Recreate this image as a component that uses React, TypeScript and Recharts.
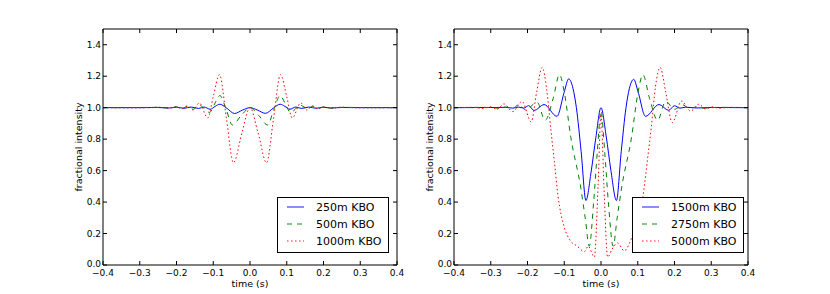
import { Legend, Line, LineChart, XAxis, YAxis } from "recharts";

const FONT = "'DejaVu Sans', sans-serif";

const X_TICKS = [-0.4, -0.3, -0.2, -0.1, 0, 0.1, 0.2, 0.3, 0.4];
const Y_TICKS = [0, 0.2, 0.4, 0.6, 0.8, 1.0, 1.2, 1.4];

// left panel
const T_250 = [-0.4, -0.3, -0.25, -0.22, -0.2, -0.18, -0.16, -0.14, -0.125, -0.108, -0.095, -0.082, -0.065, -0.042, -0.02, 0, 0.02, 0.042, 0.065, 0.082, 0.095, 0.108, 0.125, 0.14, 0.16, 0.18, 0.2, 0.22, 0.25, 0.3, 0.4];
const I_250 = [1, 1, 1.001, 0.998, 1.003, 0.996, 1.004, 0.995, 1.004, 0.99, 1.008, 1.022, 1.0, 0.963, 0.985, 1.0, 0.985, 0.964, 1.0, 1.022, 1.008, 0.99, 1.004, 0.995, 1.004, 0.996, 1.003, 0.998, 1.001, 1, 1];

const T_500 = [-0.4, -0.3, -0.25, -0.22, -0.2, -0.185, -0.17, -0.155, -0.138, -0.11, -0.095, -0.082, -0.065, -0.048, -0.024, 0, 0.024, 0.048, 0.065, 0.082, 0.095, 0.11, 0.138, 0.155, 0.17, 0.185, 0.2, 0.22, 0.25, 0.3, 0.4];
const I_500 = [1, 1.001, 1.002, 0.997, 1.005, 0.995, 1.008, 0.99, 1.015, 0.97, 1.03, 1.077, 0.99, 0.89, 0.95, 1.0, 0.95, 0.89, 0.99, 1.077, 1.03, 0.97, 1.015, 0.99, 1.008, 0.995, 1.005, 0.997, 1.002, 1.001, 1];

const T_1000 = [-0.4, -0.3, -0.25, -0.22, -0.2, -0.185, -0.17, -0.155, -0.138, -0.115, -0.1, -0.083, -0.064, -0.045, -0.022, 0, 0.022, 0.045, 0.064, 0.083, 0.1, 0.115, 0.138, 0.155, 0.17, 0.185, 0.2, 0.22, 0.25, 0.3, 0.4];
const I_1000 = [1, 0.999, 1.003, 0.996, 1.006, 0.993, 1.012, 0.985, 1.03, 0.935, 1.07, 1.21, 0.93, 0.65, 0.84, 1.0, 0.84, 0.65, 0.93, 1.21, 1.07, 0.935, 1.03, 0.985, 1.012, 0.993, 1.006, 0.996, 1.003, 0.999, 1];

// right panel
const T_1500 = [-0.4, -0.3, -0.26, -0.24, -0.225, -0.21, -0.197, -0.182, -0.155, -0.12, -0.1, -0.088, -0.076, -0.067, -0.054, -0.041, -0.027, -0.014, 0, 0.014, 0.027, 0.042, 0.055, 0.068, 0.077, 0.089, 0.101, 0.121, 0.158, 0.184, 0.2, 0.215, 0.23, 0.26, 0.3, 0.4];
const I_1500 = [1, 1.001, 1.002, 0.997, 1.004, 0.997, 1.013, 0.982, 1.02, 0.945, 1.1, 1.183, 1.12, 1.0, 0.72, 0.41, 0.59, 0.81, 1.0, 0.82, 0.6, 0.41, 0.72, 1.0, 1.12, 1.18, 1.1, 0.945, 1.02, 0.983, 1.012, 0.997, 1.003, 0.998, 1.001, 1];

const T_2750 = [-0.4, -0.32, -0.28, -0.26, -0.24, -0.224, -0.205, -0.174, -0.152, -0.13, -0.113, -0.1, -0.082, -0.055, -0.043, -0.032, -0.02, -0.01, 0, 0.01, 0.02, 0.033, 0.044, 0.056, 0.083, 0.101, 0.114, 0.132, 0.154, 0.176, 0.2, 0.222, 0.24, 0.26, 0.28, 0.32, 0.4];
const I_2750 = [1, 1.002, 0.997, 1.004, 0.995, 1.02, 0.986, 1.035, 0.92, 1.06, 1.21, 1.1, 0.81, 0.49, 0.3, 0.12, 0.4, 0.72, 0.98, 0.72, 0.4, 0.12, 0.3, 0.49, 0.81, 1.1, 1.21, 1.06, 0.92, 1.04, 0.99, 1.018, 0.996, 1.004, 0.997, 1.002, 1];

const T_5000 = [-0.4, -0.35, -0.32, -0.3, -0.283, -0.264, -0.24, -0.215, -0.19, -0.175, -0.16, -0.148, -0.136, -0.127, -0.117, -0.1, -0.085, -0.065, -0.045, -0.035, -0.018, -0.008, 0, 0.008, 0.018, 0.03, 0.045, 0.063, 0.085, 0.1, 0.115, 0.127, 0.137, 0.148, 0.161, 0.176, 0.194, 0.219, 0.244, 0.266, 0.285, 0.302, 0.32, 0.35, 0.4];
const I_5000 = [1, 1.002, 0.996, 1.006, 0.99, 1.024, 0.975, 1.04, 0.91, 1.1, 1.256, 1.12, 0.85, 0.66, 0.44, 0.24, 0.16, 0.12, 0.085, 0.12, 0.05, 0.5, 0.96, 0.5, 0.05, 0.1, 0.14, 0.09, 0.18, 0.27, 0.45, 0.68, 0.88, 1.13, 1.256, 1.1, 0.905, 1.042, 0.978, 1.022, 0.992, 1.005, 0.997, 1.002, 1];

const toPoints = (t: number[], v: number[]) => t.map((x, i) => ({ t: x, v: v[i] }));

type Series = { name: string; color: string; dash?: string; data: { t: number; v: number }[] };

const LEFT_SERIES: Series[] = [
  { name: "250m KBO", color: "#0000ff", data: toPoints(T_250, I_250) },
  { name: "500m KBO", color: "#008000", dash: "5 5", data: toPoints(T_500, I_500) },
  { name: "1000m KBO", color: "#ff0000", dash: "1.5 2.5", data: toPoints(T_1000, I_1000) },
];

const RIGHT_SERIES: Series[] = [
  { name: "1500m KBO", color: "#0000ff", data: toPoints(T_1500, I_1500) },
  { name: "2750m KBO", color: "#008000", dash: "5 5", data: toPoints(T_2750, I_2750) },
  { name: "5000m KBO", color: "#ff0000", dash: "1.5 2.5", data: toPoints(T_5000, I_5000) },
];

const fmt = (v: number) => v.toFixed(1).replace("-", "\u2212");

const BottomTick = ({ x, y, payload }: any) => (
  <g>
    <line x1={x} y1={y} x2={x} y2={y - 4} stroke="#000" />
    <text x={x} y={y + 11} textAnchor="middle" fontSize={9} fontFamily={FONT} fill="#000">
      {fmt(payload.value)}
    </text>
  </g>
);
const TopTick = ({ x, y }: any) => <line x1={x} y1={y} x2={x} y2={y + 4} stroke="#000" />;
const LeftTick = ({ x, y, payload }: any) => (
  <g>
    <line x1={x} y1={y} x2={x + 4} y2={y} stroke="#000" />
    <text x={x - 2} y={y + (payload.value === 0 ? 2 : 3)} textAnchor="end" fontSize={9} fontFamily={FONT} fill="#000">
      {fmt(payload.value)}
    </text>
  </g>
);
const RightTick = ({ x, y }: any) => <line x1={x} y1={y} x2={x - 4} y2={y} stroke="#000" />;

const XLabel = ({ viewBox }: any) => (
  <text x={viewBox.x + viewBox.width / 2} y={viewBox.y + 21.5} textAnchor="middle" fontSize={9.5} fontFamily={FONT} fill="#000">
    time (s)
  </text>
);
const YLabel = ({ viewBox }: any) => {
  const cx = viewBox.x + viewBox.width - 25;
  const cy = viewBox.y + viewBox.height / 2;
  return (
    <text x={cx} y={cy} transform={`rotate(-90 ${cx} ${cy})`} textAnchor="middle" dominantBaseline="central" fontSize={9.5} fontFamily={FONT} fill="#000">
      fractional intensity
    </text>
  );
};

const LegendBox = ({ series }: { series: Series[] }) => (
  <svg width={112} height={56} style={{ display: "block" }}>
    <rect x={0.5} y={0.5} width={111} height={55} fill="#fff" stroke="#000" />
    {series.map((s, i) => (
      <g key={s.name}>
        <line x1={10} x2={27} y1={10 + 17 * i} y2={10 + 17 * i} stroke={s.color} strokeOpacity={0.45} strokeWidth={2} strokeDasharray={s.dash} />
        <text x={39} y={14 + 17 * i} fontSize={11} fontFamily={FONT} fill="#000">
          {s.name}
        </text>
      </g>
    ))}
  </svg>
);

type PanelProps = { series: Series[]; left: number; marginLeft: number; marginRight: number; legendLeft: number };

const Panel = ({ series, left, marginLeft, marginRight, legendLeft }: PanelProps) => (
  <div style={{ position: "absolute", left, top: 0 }}>
    <LineChart width={415} height={294} margin={{ top: 25, right: marginRight, bottom: 4, left: marginLeft }}>
      <XAxis
        dataKey="t"
        type="number"
        domain={[-0.4, 0.4]}
        ticks={X_TICKS}
        interval={0}
        allowDataOverflow
        height={25}
        stroke="#000"
        tickSize={0}
        tickMargin={0}
        tickLine={false}
        tick={(p: any) => <BottomTick {...p} />}
        label={{ content: (p: any) => <XLabel {...p} /> }}
      />
      <XAxis
        xAxisId="top"
        orientation="top"
        dataKey="t"
        type="number"
        domain={[-0.4, 0.4]}
        ticks={X_TICKS}
        interval={0}
        allowDataOverflow
        height={4}
        stroke="#000"
        tickSize={0}
        tickMargin={0}
        tickLine={false}
        tick={(p: any) => <TopTick {...p} />}
      />
      <YAxis
        type="number"
        domain={[0, 1.5]}
        ticks={Y_TICKS}
        interval={0}
        allowDataOverflow
        width={30}
        stroke="#000"
        tickSize={0}
        tickMargin={0}
        tickLine={false}
        tick={(p: any) => <LeftTick {...p} />}
        label={{ content: (p: any) => <YLabel {...p} /> }}
      />
      <YAxis
        yAxisId="right"
        orientation="right"
        type="number"
        domain={[0, 1.5]}
        ticks={Y_TICKS}
        interval={0}
        allowDataOverflow
        width={4}
        stroke="#000"
        tickSize={0}
        tickMargin={0}
        tickLine={false}
        tick={(p: any) => <RightTick {...p} />}
      />
      {series.map((s) => (
        <Line
          key={s.name}
          data={s.data}
          dataKey="v"
          name={s.name}
          type="monotone"
          stroke={s.color}
          strokeWidth={1}
          strokeDasharray={s.dash}
          dot={false}
          activeDot={false}
          isAnimationActive={false}
        />
      ))}
      <Legend
        layout="vertical"
        align="center"
        verticalAlign="middle"
        wrapperStyle={{ left: legendLeft, top: 197, width: 112, height: 56 }}
        content={() => <LegendBox series={series} />}
      />
    </LineChart>
  </div>
);

export default function App() {
  return (
    <div style={{ position: "absolute", left: 0, top: 0, width: 830, height: 294, background: "#fff" }}>
      <Panel series={LEFT_SERIES} left={0} marginLeft={73} marginRight={14} legendLeft={277} />
      <Panel series={RIGHT_SERIES} left={415} marginLeft={9} marginRight={78} legendLeft={217} />
    </div>
  );
}
